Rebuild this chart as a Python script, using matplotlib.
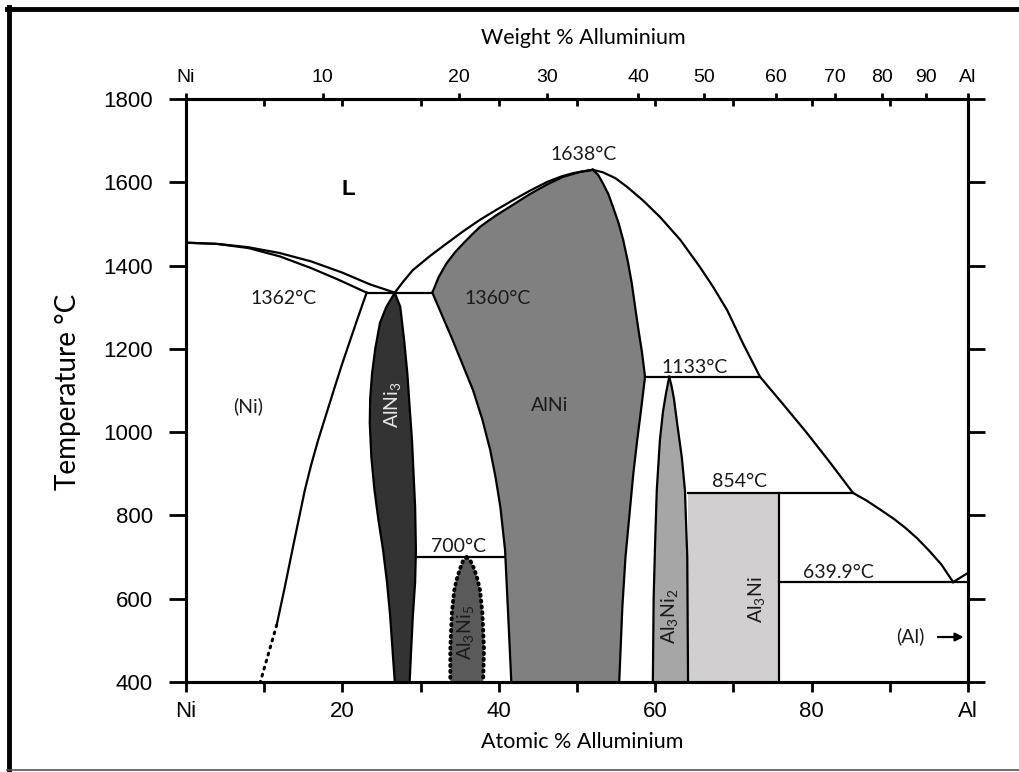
import matplotlib.pyplot as plt
from matplotlib.lines import Line2D

# Al-Ni phase diagram, values as (atomic % Al, temperature in C)

# Ni rich side
ni_liq_at = [0, 4, 8, 12, 16, 20, 23.5, 26.7]
ni_liq_T = [1455, 1452, 1444, 1430, 1410, 1383, 1355, 1335]
ni_sol_at = [0, 4, 8, 12, 16, 19.5, 23.1]
ni_sol_T = [1455, 1452, 1442, 1422, 1394, 1366, 1335]
ni_solvus_at = [23.1, 22.0, 21.0, 19.9, 18.9, 17.9, 16.9, 16.0, 15.2, 14.5, 13.8, 12.6, 11.6]
ni_solvus_T = [1335, 1276, 1221, 1160, 1101, 1041, 981, 921, 861, 798, 735, 625, 537]
ni_solvus_dot_at = [11.6, 9.5]
ni_solvus_dot_T = [537, 400]

# AlNi3 lens
alni3_left_at = [26.7, 25.6, 24.8, 24.2, 23.8, 23.55, 23.5, 23.7, 24.1, 24.6, 25.2, 25.7, 26.1, 26.4, 26.7]
alni3_left_T = [1335, 1300, 1262, 1200, 1142, 1080, 1022, 940, 861, 790, 717, 640, 560, 480, 400]
alni3_right_at = [26.7, 27.0, 27.4, 27.9, 28.3, 28.6, 28.9, 29.1, 29.3, 29.4, 29.3, 29.0, 28.8, 28.6]
alni3_right_T = [1335, 1320, 1301, 1220, 1142, 1060, 981, 900, 820, 717, 640, 556, 480, 400]

# AlNi field
alni_solvus_at = [31.5, 32.8, 34.1, 35.4, 36.7, 37.9, 38.9, 39.6, 40.2, 40.8, 41.2, 41.6]
alni_solvus_T = [1335, 1278, 1221, 1161, 1101, 1030, 957, 890, 820, 717, 560, 400]
alni_sol_at = [31.5, 32.3, 33.3, 34.4, 35.5, 36.6, 37.6, 38.7, 39.7, 41.9, 44.0, 46.1, 48.2, 50.4, 52.0]
alni_sol_T = [1335, 1372, 1405, 1432, 1454, 1475, 1493, 1508, 1521, 1547, 1572, 1594, 1613, 1625, 1630]
alni_right_at = [52.0, 52.7, 53.3, 54.0, 54.6, 55.3, 55.9, 56.5, 57.0, 57.4, 57.8, 58.3, 58.7,
                 58.2, 57.7, 57.2, 56.8, 56.2, 55.8, 55.4]
alni_right_T = [1630, 1618, 1598, 1572, 1541, 1503, 1462, 1410, 1358, 1305, 1253, 1193, 1133,
                1055, 981, 900, 820, 700, 580, 400]

# liquidus
liq_left_at = [26.7, 27.8, 29.0, 31.2, 33.4, 35.5, 37.6, 39.7, 41.8, 44.0, 46.2, 48.0, 49.5, 52.0]
liq_left_T = [1335, 1362, 1389, 1423, 1454, 1483, 1510, 1534, 1557, 1580, 1601, 1614, 1622, 1630]
liq_right_at = [52.0, 53.3, 54.9, 56.4, 58.4, 60.6, 63.2, 65.7, 67.4, 69.2, 71.2, 73.4,
                76.4, 79.4, 82.4, 85.3, 87.0, 88.7, 90.5, 92.0, 93.5, 95.0, 96.6, 98.1]
liq_right_T = [1630, 1624, 1610, 1589, 1557, 1517, 1462, 1397, 1349, 1293, 1214, 1133,
               1066, 998, 926, 854, 836, 815, 792, 770, 745, 716, 682, 639.9]
al_liq_at = [98.1, 100]
al_liq_T = [639.9, 662]

# Al3Ni5 (dotted), Al3Ni2, Al3Ni
al3ni5_left_at = [35.9, 35.4, 35.0, 34.6, 34.3, 34.0, 33.8, 33.8]
al3ni5_left_T = [700, 690, 670, 645, 620, 566, 480, 400]
al3ni5_right_at = [35.9, 36.4, 36.9, 37.3, 37.6, 37.9, 38.1, 38.0]
al3ni5_right_T = [700, 690, 670, 645, 620, 566, 480, 400]
al3ni2_left_at = [61.8, 61.4, 61.0, 60.6, 60.2, 60.0, 59.8, 59.7]
al3ni2_left_T = [1133, 1095, 1050, 981, 860, 741, 600, 400]
al3ni2_right_at = [61.8, 62.1, 62.4, 62.8, 63.4, 63.8, 64.1, 64.2]
al3ni2_right_T = [1133, 1110, 1080, 1022, 940, 861, 700, 400]
al3ni_at = [64.2, 75.8]
al3ni_T = [400, 854]

# invariant lines: (T, start at%, end at%)
invariants = [(1335, 23.1, 31.5), (1133, 58.7, 73.4), (854, 64.2, 85.3),
              (700, 29.4, 40.7), (639.9, 75.8, 100)]

# weight % scale on top (positions in atomic %)
wt_labels = ['Ni', '10', '20', '30', '40', '50', '60', '70', '80', '90', 'Al']
wt_pos = [0, 17.5, 34.9, 46.2, 57.8, 66.2, 75.4, 83.0, 89.0, 94.6, 100]

at_ticks = [0, 20, 40, 60, 80, 100]
at_labels = ['Ni', '20', '40', '60', '80', 'Al']
T_ticks = [400, 600, 800, 1000, 1200, 1400, 1600, 1800]

c_alni3 = '#333333'
c_alni = '#808080'
c_al3ni5 = '#5a5a5a'
c_al3ni2 = '#a6a6a6'
c_al3ni = '#d1cfcf'

txt_font = 'Lato'
tick_font = 'Liberation Sans'
lw = 1.6

fig = plt.figure(figsize=(10.2, 7.72), dpi=100)
ax = fig.add_axes([186/1020, 90/772, 782/1020, 583/772])

# filled phases
ax.fill(alni3_left_at + alni3_right_at[::-1], alni3_left_T + alni3_right_T[::-1], color=c_alni3, lw=0)
ax.fill(alni_solvus_at[::-1] + alni_sol_at + alni_right_at, alni_solvus_T[::-1] + alni_sol_T + alni_right_T,
        color=c_alni, lw=0)
ax.fill(al3ni5_left_at + al3ni5_right_at[::-1], al3ni5_left_T + al3ni5_right_T[::-1], color=c_al3ni5, lw=0)
ax.fill(al3ni2_left_at + al3ni2_right_at[::-1], al3ni2_left_T + al3ni2_right_T[::-1], color=c_al3ni2, lw=0)
ax.fill_between(al3ni_at, al3ni_T[0], al3ni_T[1], color=c_al3ni, lw=0)

# boundaries
for xs, ys in [(ni_liq_at, ni_liq_T), (ni_sol_at, ni_sol_T), (ni_solvus_at, ni_solvus_T),
               (alni3_left_at, alni3_left_T), (alni3_right_at, alni3_right_T),
               (alni_solvus_at, alni_solvus_T), (alni_sol_at, alni_sol_T), (alni_right_at, alni_right_T),
               (liq_left_at, liq_left_T), (liq_right_at, liq_right_T), (al_liq_at, al_liq_T),
               (al3ni2_left_at, al3ni2_left_T), (al3ni2_right_at, al3ni2_right_T)]:
    ax.plot(xs, ys, color='black', lw=lw, solid_joinstyle='round')
ax.plot([al3ni_at[1], al3ni_at[1]], al3ni_T, color='black', lw=lw)
ax.plot(ni_solvus_dot_at, ni_solvus_dot_T, color='black', lw=2.2, ls=(0, (0.6, 1.8)), dash_capstyle='round')
for xs, ys in [(al3ni5_left_at, al3ni5_left_T), (al3ni5_right_at, al3ni5_right_T)]:
    ax.plot(xs, ys, color='black', lw=2.8, ls=(0, (0.3, 1.2)), dash_capstyle='round')
for T, x0, x1 in invariants:
    ax.plot([x0, x1], [T, T], color='black', lw=lw)

# labels inside the diagram
kw = dict(family=txt_font, fontsize=14, ha='center', va='center', color='#1a1a1a')
ax.text(50.8, 1666, '1638°C', **kw)
ax.text(20.8, 1582, 'L', family=tick_font, fontsize=16, fontweight='bold', ha='center', va='center')
ax.text(12.5, 1322, '1362°C', **kw)
ax.text(39.9, 1322, '1360°C', **kw)
ax.text(7.9, 1063, '(Ni)', **kw)
ax.text(46.5, 1063, 'AlNi', **kw)
ax.text(65.1, 1156, '1133°C', **kw)
ax.text(70.8, 882, '854°C', **kw)
ax.text(34.8, 726, '700°C', **kw)
ax.text(83.4, 664, '639.9°C', **kw)
ax.text(92.6, 510, '(Al)', **kw)
ax.text(26.5, 1065, r'AlNi$_\mathregular{3}$', family=txt_font, fontsize=14, ha='center', va='center',
        rotation=90, color='#e8e8e8')
ax.text(35.9, 518, r'Al$_\mathregular{3}$Ni$_\mathregular{5}$', family=txt_font, fontsize=14, ha='center',
        va='center', rotation=90, color='#1a1a1a')
ax.text(61.9, 558, r'Al$_\mathregular{3}$Ni$_\mathregular{2}$', family=txt_font, fontsize=14, ha='center',
        va='center', rotation=90, color='#1a1a1a')
ax.text(73.1, 597, r'Al$_\mathregular{3}$Ni', family=txt_font, fontsize=14, ha='center', va='center',
        rotation=90, color='#1a1a1a')
ax.annotate('', xy=(99.8, 508), xytext=(95.8, 508),
            arrowprops=dict(arrowstyle='-|>', color='black', lw=1.6, mutation_scale=12))

# axes
ax.set_xlim(0, 100)
ax.set_ylim(400, 1800)
ax.set_xticks(at_ticks)
ax.set_xticklabels(at_labels)
ax.set_xticks(range(10, 100, 20), minor=True)
ax.set_yticks(T_ticks)
ax.tick_params(axis='x', which='both', direction='out', length=7, width=2, pad=7)
ax.tick_params(axis='y', which='both', direction='out', length=12, width=2, pad=12, right=True)
for lab in ax.get_xticklabels() + ax.get_yticklabels():
    lab.set_family(tick_font)
    lab.set_fontsize(16)
for s in ax.spines.values():
    s.set_linewidth(2.2)

ax2 = ax.twiny()
ax2.set_xlim(0, 100)
ax2.set_xticks(wt_pos)
ax2.set_xticklabels(wt_labels)
ax2.set_xticks(range(10, 100, 10), minor=True)
ax2.tick_params(axis='x', which='major', direction='out', length=4, width=2, pad=5)
ax2.tick_params(axis='x', which='minor', direction='in', length=5, width=2)
for lab in ax2.get_xticklabels():
    lab.set_family(tick_font)
    lab.set_fontsize(14)
for s in ax2.spines.values():
    s.set_linewidth(2.2)

fig.text(583/1020, 1 - 38/772, 'Weight % Alluminium', family=txt_font, fontsize=15.5, ha='center', va='center')
fig.text(582/1020, 1 - 742/772, 'Atomic % Alluminium', family=txt_font, fontsize=15.5, ha='center', va='center')
fig.text(68/1020, 1 - 392/772, 'Temperature °C', family=txt_font, fontsize=20, ha='center', va='center',
         rotation=90)

# outer frame of the picture
fig.add_artist(Line2D([7/1020, 1], [1 - 9/772, 1 - 9/772], color='black', lw=3.5))
fig.add_artist(Line2D([9/1020, 9/1020], [1 - 7/772, 2/772], color='black', lw=3.5))
fig.add_artist(Line2D([7/1020, 1], [2/772, 2/772], color='#555555', lw=1.2))

fig.savefig('out.png', dpi=100)
